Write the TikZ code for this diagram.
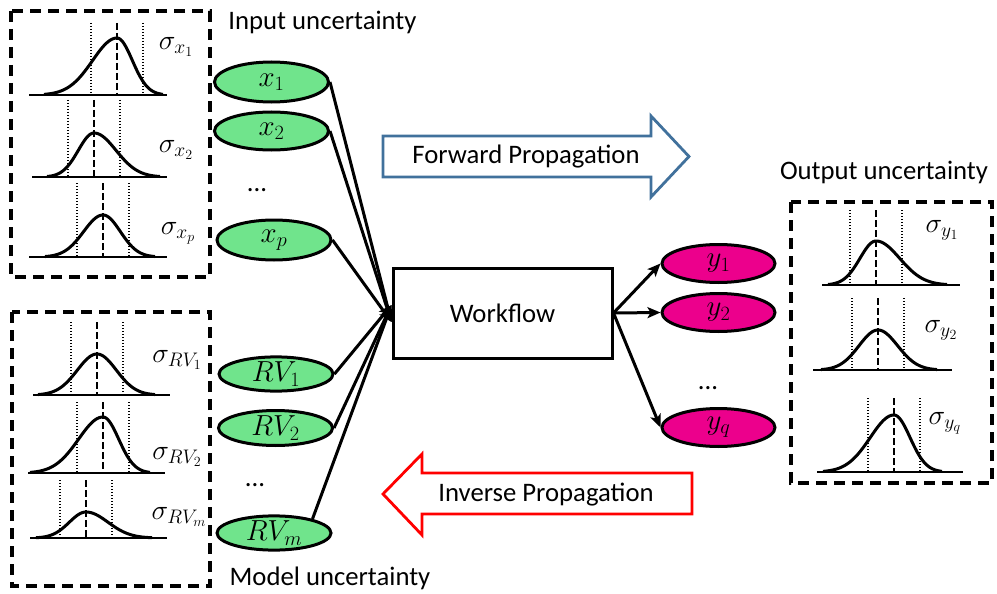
\documentclass[tikz,border=0pt]{standalone}
\usepackage{fix-cm}
\usepackage{fontspec}
\setmainfont{Carlito}
\usetikzlibrary{arrows.meta,shapes.geometric,calc}
\definecolor{eg}{RGB}{112,228,140}
\definecolor{ep}{RGB}{236,0,140}
\definecolor{fblue}{RGB}{65,113,156}
\definecolor{fred}{RGB}{255,0,0}
\tikzset{
 axisline/.style={line width=2.8pt},
 meanline/.style={line width=2.6pt, dash pattern=on 7pt off 3pt},
 sdline/.style={line width=2.2pt, dash pattern=on 1.4pt off 1.6pt},
 pdfline/.style={line width=3pt, line join=round},
 dbox/.style={line width=3.2pt, dash pattern=on 11pt off 7pt},
 ev/.style={ellipse, draw, line width=3pt, fill=eg, inner sep=0pt, minimum width=114pt, font=\fontsize{29}{34}\selectfont},
 pv/.style={ellipse, draw, line width=3pt, fill=ep, inner sep=0pt, minimum width=113pt, minimum height=38pt, font=\fontsize{29}{34}\selectfont},
 conn/.style={line width=3pt, -{Stealth[length=13pt,width=11pt,inset=3pt]}},
 wfbox/.style={draw, line width=3pt, minimum width=219pt, minimum height=90pt, inner sep=0pt},
 lbl/.style={inner sep=0pt},
 sig/.style={inner sep=0pt, font=\fontsize{28}{32}\selectfont},
 fatarrow/.style={line width=2.8pt, line join=miter},
}
\newcommand{\distr}[9]{%
 \draw[axisline] (#2,#1) -- (#3,#1);
 \draw[meanline] (#5,#9) -- (#5,#1);
 \draw[sdline] ({#5-#8},#9) -- ({#5-#8},#1);
 \draw[sdline] ({#5+#8},#9) -- ({#5+#8},#1);
 \draw[pdfline] plot[domain=#4:#5,samples=40] (\x,{#1-(#1-#6)*exp(-4.5*((\x-#5)/(#5-#4))^2)})
   -- plot[domain=#5:#7,samples=40] (\x,{#1-(#1-#6)*exp(-4.5*((\x-#5)/(#7-#5))^2)});
}
\begin{document}
\begin{tikzpicture}[x=1pt,y=-1pt, every node/.style={font=\fontsize{26.7}{32}\selectfont}]
\useasboundingbox (0,0) rectangle (997,594);

% dashed boxes
\draw[dbox] (11,11) rectangle (210,277);
\draw[dbox] (12,312) rectangle (210,586);
\draw[dbox] (791,202) rectangle (992,483);

% distributions: base y, axis l, axis r, start, peak x, peak y, end, sd half, top
\distr{95}{29}{167}{44}{117}{38}{163}{26}{23}
\distr{177}{32}{167}{47}{94}{133}{160}{26}{100}
\distr{257}{29}{167}{45}{103}{215}{155}{26}{183}
\distr{395}{33}{170}{38}{97}{354}{155}{26}{322}
\distr{473}{28}{165}{30}{103}{417}{150}{26}{402}
\distr{538}{30}{167}{36}{86}{512}{152}{26}{480}
\distr{285}{822}{960}{828}{876}{241}{947}{26}{210}
\distr{370}{813}{952}{821}{878}{330}{937}{26}{298}
\distr{472}{817}{963}{823}{894}{415}{942}{26}{398}

% sigma labels
\node[sig] (sx1) at (176,47) {$\sigma_{x_1}$};
\node[sig] (sx2) at (176,150) {$\sigma_{x_2}$};
\node[sig] (sxp) at (178,233) {$\sigma_{x_p}$};
\node[sig] (sr1) at (177,360) {$\sigma_{RV_1}$};
\node[sig] (sr2) at (177,457) {$\sigma_{RV_2}$};
\node[sig] (srm) at (179,517) {$\sigma_{RV_m}$};
\node[sig] (sy1) at (942,230) {$\sigma_{y_1}$};
\node[sig] (sy2) at (941,330) {$\sigma_{y_2}$};
\node[sig] (syq) at (945,423) {$\sigma_{y_q}$};

% titles
\node[lbl] (tin) at (322.5,22) {Input uncertainty};
\node[lbl] (tmod) at (330,578) {Model uncertainty};
\node[lbl] (tout) at (884,172) {Output uncertainty};

% input ellipses
\node[ev, minimum height=40pt] (x1) at (271.5,82) {$x_1$};
\node[ev, minimum height=38pt] (x2) at (271.5,131) {$x_2$};
\node[ev, minimum height=40pt] (xp) at (274,240) {$x_p$};
\node[ev, minimum height=34pt] (r1) at (276,374) {$RV_1$};
\node[ev, minimum height=35pt] (r2) at (275.5,428) {$RV_2$};
\node[ev, minimum height=34pt] (rm) at (274,533) {$RV_m$};
\node[lbl] (d1) at (257,190) {...};
\node[lbl] (d2) at (255,485) {...};

% workflow
\node[wfbox] (wf) at (502.5,313) {Workflow};
\coordinate (inT) at ($(wf.west)+(0,9)$);
\coordinate (inB) at ($(wf.west)+(0,-8)$);
\draw[conn] (x1.east) -- (inT);
\draw[conn] (x2.east) -- (inT);
\draw[conn] (xp.east) -- (inT);
\draw[conn] (r1.east) -- (inB);
\draw[conn] (r2.east) -- (inB);
\draw[conn] (rm.20) -- (inB);

% outputs
\node[pv] (y1) at (718.5,263.5) {$y_1$};
\node[pv] (y2) at (718.5,312.5) {$y_2$};
\node[pv] (yq) at (718.5,427.5) {$y_q$};
\node[lbl] (d3) at (708,388) {...};
\draw[conn] (wf.east) -- (y1.west);
\draw[conn] (wf.east) -- (y2.west);
\draw[conn] (wf.east) -- (yq.west);

% forward propagation arrow
\draw[fatarrow, draw=fblue, fill=white] (383,136) -- (651,136) -- (651,116) -- (689,156.5) -- (651,197) -- (651,177) -- (383,177) -- cycle;
\node[lbl] (fwd) at (526,157) {Forward Propagation};

% inverse propagation arrow
\draw[fatarrow, draw=fred, fill=white] (692,473) -- (422,473) -- (422,454) -- (383,494) -- (422,535) -- (422,514) -- (692,514) -- cycle;
\node[lbl] (inv) at (546,495) {Inverse Propagation};
\end{tikzpicture}
\end{document}
